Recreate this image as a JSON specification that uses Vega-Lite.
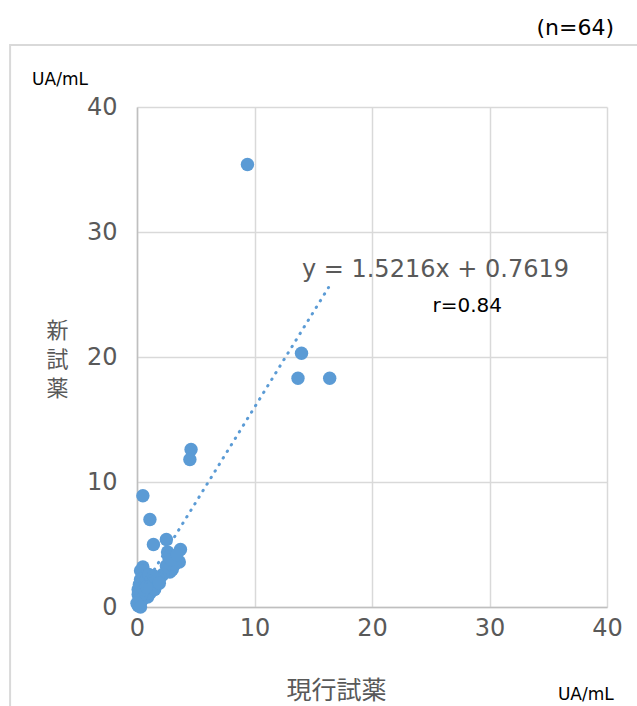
{
  "$schema": "https://vega.github.io/schema/vega-lite/v6.json",
  "width": 470,
  "height": 500,
  "autosize": {"type": "none"},
  "padding": {"left": 137, "top": 107, "right": 30, "bottom": 99},
  "background": "white",
  "config": {
    "view": {"stroke": null},
    "font": "DejaVu Sans",
    "axis": {"labelFont": "DejaVu Sans", "titleFont": "Noto Sans CJK JP"}
  },
  "layer": [
    {
      "data": {"values": [{"bx": -10.8, "bx2": 44, "by": -9, "by2": 44.96}]},
      "mark": {"type": "rect", "fill": "transparent", "stroke": "#D9D9D9", "strokeWidth": 2},
      "encoding": {
        "x": {"field": "bx", "type": "quantitative", "scale": {"domain": [0, 40], "nice": false}},
        "x2": {"field": "bx2"},
        "y": {"field": "by", "type": "quantitative", "scale": {"domain": [0, 40], "nice": false}},
        "y2": {"field": "by2"}
      }
    },
    {
      "data": {"values": [
        {"x": 9.4, "y": 35.4}, {"x": 14.0, "y": 20.3}, {"x": 13.7, "y": 18.3}, {"x": 16.4, "y": 18.3},
        {"x": 4.6, "y": 12.6}, {"x": 4.5, "y": 11.8}, {"x": 0.5, "y": 8.9}, {"x": 1.1, "y": 7.0},
        {"x": 1.4, "y": 5.0}, {"x": 2.5, "y": 5.4}, {"x": 3.7, "y": 4.6}, {"x": 3.6, "y": 3.6},
        {"x": 2.6, "y": 4.4}, {"x": 2.7, "y": 4.0}, {"x": 0.5, "y": 3.2}, {"x": 0.3, "y": 2.9},
        {"x": 3.0, "y": 3.0}, {"x": 2.8, "y": 2.8}, {"x": 2.5, "y": 3.3}, {"x": 2.2, "y": 2.6},
        {"x": 2.0, "y": 2.4}, {"x": 1.8, "y": 2.3}, {"x": 1.6, "y": 2.2}, {"x": 1.5, "y": 2.0},
        {"x": 1.3, "y": 1.9}, {"x": 1.2, "y": 1.6}, {"x": 1.0, "y": 1.5}, {"x": 0.9, "y": 1.3},
        {"x": 0.8, "y": 1.2}, {"x": 0.7, "y": 1.0}, {"x": 0.6, "y": 0.9}, {"x": 0.5, "y": 0.7},
        {"x": 0.4, "y": 0.5}, {"x": 0.3, "y": 0.4}, {"x": 0.2, "y": 0.3}, {"x": 0.1, "y": 0.2},
        {"x": 0.1, "y": 0.1}, {"x": 0.2, "y": 0.8}, {"x": 0.3, "y": 1.2}, {"x": 0.4, "y": 1.6},
        {"x": 0.5, "y": 2.0}, {"x": 0.6, "y": 2.4}, {"x": 0.3, "y": 2.2}, {"x": 0.2, "y": 1.8},
        {"x": 0.1, "y": 1.4}, {"x": 0.1, "y": 1.0}, {"x": 0.7, "y": 1.8}, {"x": 0.8, "y": 2.2},
        {"x": 1.0, "y": 2.6}, {"x": 1.2, "y": 2.1}, {"x": 1.4, "y": 2.5}, {"x": 0.9, "y": 0.8},
        {"x": 1.1, "y": 1.1}, {"x": 1.5, "y": 1.4}, {"x": 1.9, "y": 1.9}, {"x": 3.2, "y": 3.4},
        {"x": 2.9, "y": 3.8}, {"x": 3.4, "y": 4.2}, {"x": 0.2, "y": 0.6}, {"x": 0.4, "y": 1.0},
        {"x": 0.6, "y": 1.4}, {"x": 0.8, "y": 1.6}, {"x": 0.0, "y": 0.3}, {"x": 0.3, "y": 0.0}
      ]},
      "mark": {"type": "circle", "size": 180, "opacity": 1, "color": "#5B9BD5"},
      "encoding": {
        "x": {"field": "x", "type": "quantitative", "scale": {"domain": [0, 40], "nice": false},
          "axis": {"values": [0, 10, 20, 30, 40], "grid": true, "gridColor": "#D9D9D9", "gridWidth": 1.5,
            "domainColor": "#BFBFBF", "domainWidth": 1.5, "ticks": false, "labelFontSize": 24, "labelColor": "#595959",
            "labelFlush": false, "labelPadding": 9, "title": "現行試薬", "titleFontSize": 25, "titleFontWeight": "normal", "titleColor": "#595959",
            "titleX": 199, "titleY": 83, "titleBaseline": "middle", "titleAlign": "center"}},
        "y": {"field": "y", "type": "quantitative", "scale": {"domain": [0, 40], "nice": false},
          "axis": {"values": [0, 10, 20, 30, 40], "grid": true, "gridColor": "#D9D9D9", "gridWidth": 1.5,
            "domainColor": "#BFBFBF", "domainWidth": 1.5, "ticks": false, "labelFontSize": 24, "labelColor": "#595959",
            "labelFlush": false, "labelPadding": 20, "title": ["新", "試", "薬"], "titleAngle": 0, "titleFontSize": 22, "titleFontWeight": "normal",
            "titleColor": "#595959", "titleLineHeight": 29, "titleX": -80, "titleY": 223, "titleBaseline": "middle", "titleAlign": "center"}}
      }
    },
    {
      "data": {"values": [{"tx": 0.1, "ty": 0.91}, {"tx": 16.3, "ty": 25.56}]},
      "mark": {"type": "line", "color": "#5B9BD5", "strokeWidth": 3, "strokeCap": "round", "strokeDash": [0.5, 7.2]},
      "encoding": {
        "x": {"field": "tx", "type": "quantitative"},
        "y": {"field": "ty", "type": "quantitative"}
      }
    },
    {
      "data": {"values": [
        {"lx": -6.55, "ly": 42.2, "label": "UA/mL", "sz": 17, "col": "#000000"},
        {"lx": 37.3, "ly": 46.3, "label": "(n=64)", "sz": 22, "col": "#000000"},
        {"lx": 38.2, "ly": -7.0, "label": "UA/mL", "sz": 17, "col": "#000000"},
        {"lx": 25.4, "ly": 27.0, "label": "y = 1.5216x + 0.7619", "sz": 24, "col": "#595959"},
        {"lx": 28.1, "ly": 24.1, "label": "r=0.84", "sz": 20, "col": "#000000"}
      ]},
      "mark": {"type": "text", "align": "center", "baseline": "middle", "font": "DejaVu Sans"},
      "encoding": {
        "x": {"field": "lx", "type": "quantitative"},
        "y": {"field": "ly", "type": "quantitative"},
        "text": {"field": "label"},
        "size": {"field": "sz", "type": "quantitative", "scale": null},
        "color": {"field": "col", "type": "nominal", "scale": null}
      }
    }
  ]
}
